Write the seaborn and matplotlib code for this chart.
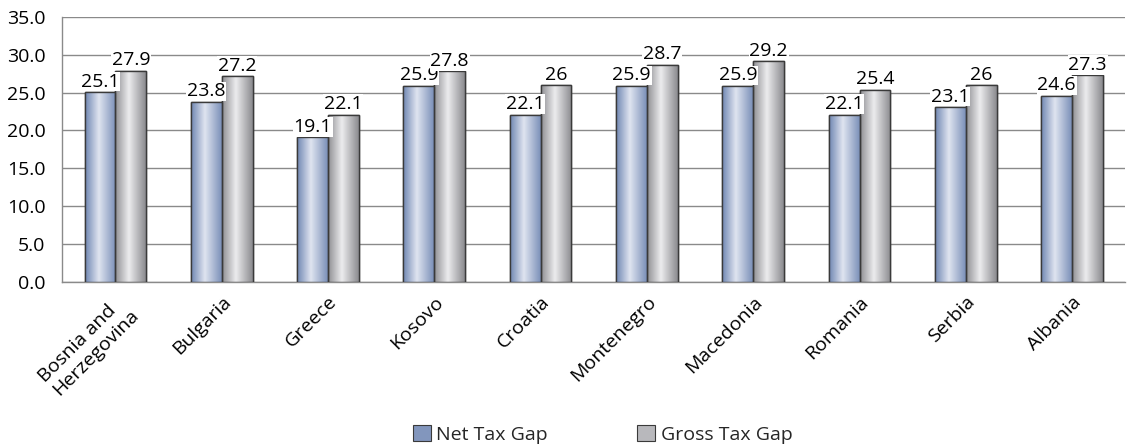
import seaborn as sns
import matplotlib.pyplot as plt
import matplotlib.patches as mpatches
from matplotlib.colors import LinearSegmentedColormap
import pandas as pd
import numpy as np

paises = ['Bosnia and\nHerzegovina', 'Bulgaria', 'Greece', 'Kosovo', 'Croatia',
          'Montenegro', 'Macedonia', 'Romania', 'Serbia', 'Albania']
net_gap = [25.1, 23.8, 19.1, 25.9, 22.1, 25.9, 25.9, 22.1, 23.1, 24.6]
gross_gap = [27.9, 27.2, 22.1, 27.8, 26, 28.7, 29.2, 25.4, 26, 27.3]
series = ['Net Tax Gap', 'Gross Tax Gap']

df = pd.DataFrame({'pais': paises * 2,
                   'serie': [series[0]] * len(paises) + [series[1]] * len(paises),
                   'valor': net_gap + gross_gap})

sns.set_theme(style='white')
plt.rcParams['font.family'] = ['Open Sans', 'DejaVu Sans']
fs = 14

fig = plt.figure(figsize=(11.31, 4.48), dpi=100)
ax = fig.add_axes([0.055, 0.371, 0.94, 0.591])

colores_base = ['#8296bd', '#b8b8bc']
sns.barplot(data=df, x='pais', y='valor', hue='serie', palette=colores_base,
            width=0.58, gap=0, edgecolor='#3a3a3a', linewidth=1.0,
            legend=False, ax=ax, zorder=3)

# degradados horizontales dentro de cada barra
cmaps = [
    LinearSegmentedColormap.from_list('azul', [(0, '#6f86b2'), (0.45, '#dfe4f0'), (1, '#7a8fb8')]),
    LinearSegmentedColormap.from_list('gris', [(0, '#8e8e92'), (0.45, '#ececee'), (1, '#8a8a8e')]),
]
grad = np.linspace(0, 1, 256).reshape(1, -1)
for cont, cmap in zip(ax.containers, cmaps):
    for barra in cont:
        x0, y0 = barra.get_x(), barra.get_y()
        w, h = barra.get_width(), barra.get_height()
        im = ax.imshow(grad, cmap=cmap, aspect='auto',
                       extent=[x0, x0 + w, y0, y0 + h], zorder=3.5)
        im.set_clip_path(barra)
        borde = mpatches.Rectangle((x0, y0), w, h, fill=False,
                                   edgecolor='#3a3a3a', linewidth=1.0, zorder=4)
        ax.add_patch(borde)

# etiquetas de valor con fondo blanco sobre la rejilla
for cont, vals in zip(ax.containers, [net_gap, gross_gap]):
    etiquetas = ax.bar_label(cont, labels=[f'{v:g}' for v in vals], padding=1,
                             fontsize=fs, color='black', zorder=5)
    for t in etiquetas:
        t.set_bbox(dict(facecolor='white', edgecolor='none', pad=0.5))

ax.set_xlim(-0.5, len(paises) - 0.5)
ax.set_ylim(0, 35)
ax.set_yticks(np.arange(0, 35.1, 5))
ax.set_yticklabels([f'{v:.1f}' for v in np.arange(0, 35.1, 5)], fontsize=fs, color='black')
ax.yaxis.grid(True, color='#8a8a8a', linewidth=1.0, zorder=0)
ax.set_axisbelow(True)

ax.set_xticks(range(len(paises)))
ax.set_xticklabels(paises, rotation=45, ha='right', rotation_mode='anchor',
                   fontsize=fs, color='black', linespacing=1.1, multialignment='left')
ax.tick_params(axis='x', which='major', length=0, pad=8)
ax.set_xticks(np.arange(-0.5, len(paises), 1), minor=True)
ax.tick_params(axis='x', which='minor', length=6, width=1, color='#8a8a8a', direction='out')
ax.tick_params(axis='y', length=0, pad=12)

for lado in ['top', 'right']:
    ax.spines[lado].set_visible(False)
for lado in ['left', 'bottom']:
    ax.spines[lado].set_color('#8a8a8a')
    ax.spines[lado].set_linewidth(1.0)

ax.set_xlabel('')
ax.set_ylabel('')

handles = [mpatches.Patch(facecolor=colores_base[0], edgecolor='#3a3a3a', linewidth=0.8),
           mpatches.Patch(facecolor=colores_base[1], edgecolor='#3a3a3a', linewidth=0.8)]
fig.legend(handles, series, loc='lower center', bbox_to_anchor=(0.533, -0.03), ncol=2,
           frameon=False, fontsize=fs, handlelength=0.9, handleheight=0.9,
           handletextpad=0.3, columnspacing=4.6)

fig.savefig('out.png', dpi=100)
